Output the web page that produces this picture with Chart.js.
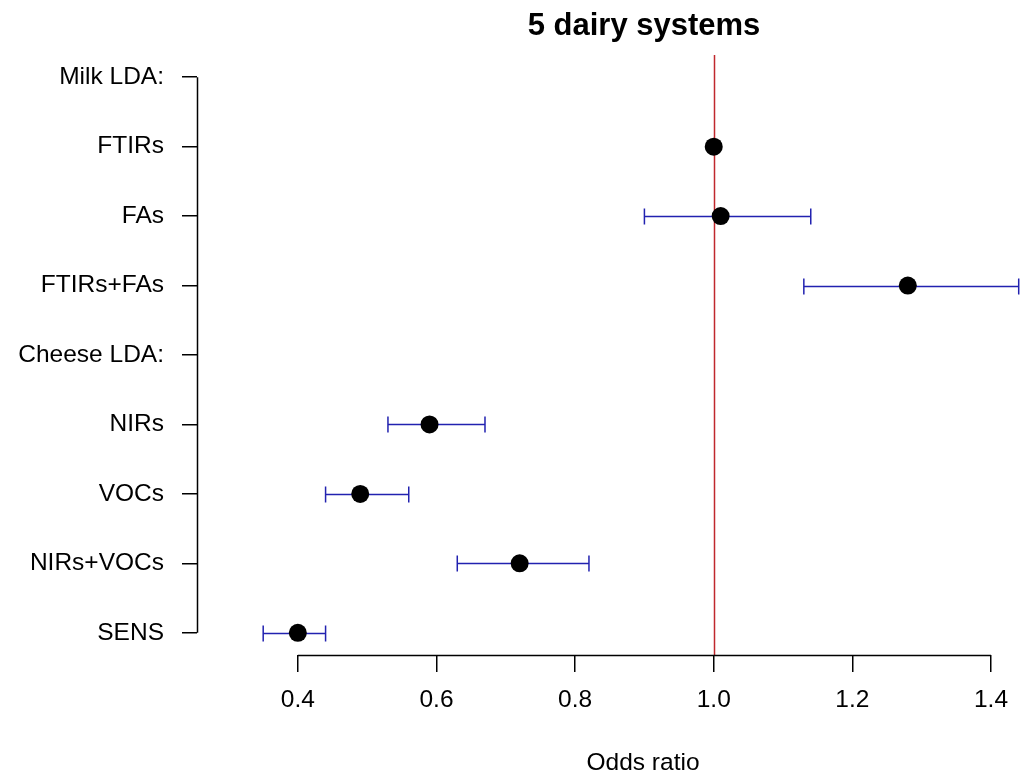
<!DOCTYPE html>
<html>
<head>
<meta charset="utf-8">
<script src="https://cdn.jsdelivr.net/npm/chart.js@4/dist/chart.umd.min.js"></script>
<style>
  body { margin: 0; background: #fff; }
  canvas { display: block; }
</style>
</head>
<body>
<canvas id="chart" width="1025" height="783"></canvas>
<script>
// forest plot data
const categories = ['Milk LDA:', 'FTIRs', 'FAs', 'FTIRs+FAs', 'Cheese LDA:', 'NIRs', 'VOCs', 'NIRs+VOCs', 'SENS'];
const oddsRatio = [null, 1.00, 1.01, 1.28, null, 0.59, 0.49, 0.72, 0.40];
const lowerCI = [null, null, 0.90, 1.13, null, 0.53, 0.44, 0.63, 0.35];
const upperCI = [null, null, 1.14, 1.44, null, 0.67, 0.56, 0.82, 0.44];
const xTicks = [0.4, 0.6, 0.8, 1.0, 1.2, 1.4];
const refLine = 1.0;

const FONT = "'Liberation Sans', Arial, sans-serif";

const points = [];
oddsRatio.forEach((v, i) => {
  if (v !== null) points.push({ x: v, y: i + 1 });
});

const forestPlugin = {
  id: 'forest',
  beforeDatasetsDraw(chart) {
    const { ctx, chartArea, scales: { x, y } } = chart;
    ctx.save();
    // reference line
    ctx.strokeStyle = '#c0282d';
    ctx.lineWidth = 1.5;
    const rx = Math.round(x.getPixelForValue(refLine)) + 0.5;
    ctx.beginPath();
    ctx.moveTo(rx, chartArea.top);
    ctx.lineTo(rx, chartArea.bottom);
    ctx.stroke();
    // error bars
    ctx.strokeStyle = '#2222b0';
    ctx.lineWidth = 1.5;
    lowerCI.forEach((lo, i) => {
      const hi = upperCI[i];
      if (lo === null || hi === null) return;
      const py = Math.round(y.getPixelForValue(i + 1)) + 0.5;
      const x1 = x.getPixelForValue(lo);
      const x2 = x.getPixelForValue(hi);
      ctx.beginPath();
      ctx.moveTo(x1, py); ctx.lineTo(x2, py);
      ctx.moveTo(x1, py - 8); ctx.lineTo(x1, py + 8);
      ctx.moveTo(x2, py - 8); ctx.lineTo(x2, py + 8);
      ctx.stroke();
    });
    ctx.restore();
  },
  afterDraw(chart) {
    const { ctx, chartArea, scales: { x, y } } = chart;
    ctx.save();
    ctx.strokeStyle = '#000';
    ctx.lineWidth = 1.5;
    const by = Math.round(chartArea.bottom) + 0.5;
    const lx = Math.round(chartArea.left) + 0.5;
    ctx.beginPath();
    ctx.moveTo(x.getPixelForValue(xTicks[0]), by);
    ctx.lineTo(x.getPixelForValue(xTicks[xTicks.length - 1]), by);
    ctx.moveTo(lx, y.getPixelForValue(1));
    ctx.lineTo(lx, y.getPixelForValue(categories.length));
    ctx.stroke();
    // titles
    ctx.fillStyle = '#000';
    ctx.textAlign = 'center';
    ctx.textBaseline = 'middle';
    ctx.font = 'bold 31px ' + FONT;
    ctx.fillText('5 dairy systems', 644, 26);
    ctx.font = '24.5px ' + FONT;
    ctx.fillText('Odds ratio', 643, 763);
    ctx.restore();
  }
};

new Chart(document.getElementById('chart'), {
  type: 'scatter',
  data: {
    datasets: [{
      data: points,
      backgroundColor: '#000',
      borderWidth: 0,
      pointRadius: 9,
      pointHoverRadius: 9
    }]
  },
  options: {
    responsive: false,
    animation: false,
    devicePixelRatio: 1,
    layout: { padding: { top: 55, right: 0, left: 0, bottom: 0 } },
    plugins: {
      legend: { display: false },
      tooltip: { enabled: false }
    },
    scales: {
      x: {
        type: 'linear',
        min: 0.2545,
        max: 1.4361,
        afterBuildTicks: (scale) => { scale.ticks = xTicks.map(v => ({ value: v })); },
        afterFit: (scale) => { scale.height = 128; },
        grid: { display: true, drawOnChartArea: false, drawTicks: true, tickLength: 17, color: '#000', lineWidth: 1.5 },
        border: { display: false },
        ticks: {
          autoSkip: false,
          maxRotation: 0,
          padding: 14,
          color: '#000',
          font: { family: FONT, size: 24.5 },
          callback: (v) => Number(v).toFixed(1)
        }
      },
      y: {
        type: 'linear',
        reverse: true,
        min: 0.68,
        max: 9.32,
        afterBuildTicks: (scale) => { scale.ticks = categories.map((c, i) => ({ value: i + 1 })); },
        afterFit: (scale) => { scale.width = 197; },
        grid: { display: true, drawOnChartArea: false, drawTicks: true, tickLength: 15, color: '#000', lineWidth: 1.5 },
        border: { display: false },
        ticks: {
          autoSkip: false,
          padding: 18,
          color: '#000',
          font: { family: FONT, size: 24.5 },
          callback: (v) => categories[Math.round(v) - 1]
        }
      }
    }
  },
  plugins: [forestPlugin]
});
</script>
</body>
</html>
